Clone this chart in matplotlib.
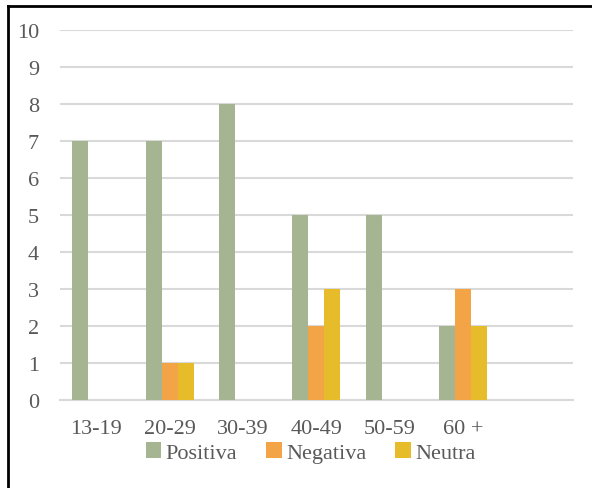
import numpy as np
import matplotlib.pyplot as plt
from matplotlib.lines import Line2D

# Data
categorias = ['13-19', '20-29', '30-39', '40-49', '50-59', '60 +', '']
positiva = [7, 7, 8, 5, 5, 2, 0]
negativa = [0, 1, 0, 2, 0, 3, 0]
neutra = [0, 1, 0, 3, 0, 2, 0]

plt.rcParams['font.family'] = ['Liberation Serif', 'DejaVu Serif']
gris = '#595959'

fig = plt.figure(figsize=(5.92, 4.89), dpi=100)
ax = fig.add_axes([0.101, 0.18, 0.867, 0.757])

x = np.arange(len(categorias))
w = 0.218
ax.bar(x - w, positiva, w, color='#A5B592', label='Positiva', zorder=3)
ax.bar(x, negativa, w, color='#F3A447', label='Negativa', zorder=3)
ax.bar(x + w, neutra, w, color='#E6BC2A', label='Neutra', zorder=3)

ax.set_xlim(-0.5, len(categorias) - 0.5)
ax.set_ylim(0, 10)
ax.set_yticks(range(0, 11))
ax.set_xticks(x)
ax.set_xticklabels(categorias)
ax.grid(axis='y', color='#d9d9d9', linewidth=1.5, zorder=0)
for s in ['top', 'right', 'left']:
    ax.spines[s].set_visible(False)
ax.spines['bottom'].set_color('#d9d9d9')
ax.spines['bottom'].set_linewidth(1.5)
ax.tick_params(axis='both', length=0, labelsize=16, labelcolor=gris)
ax.tick_params(axis='x', pad=14)
ax.tick_params(axis='y', pad=15)

leg = fig.legend(loc='center', bbox_to_anchor=(0.525, 0.073), ncol=3, frameon=False,
                 prop={'family': ['Liberation Serif', 'DejaVu Serif'], 'size': 16},
                 handlelength=0.7, handleheight=0.7, handletextpad=0.2,
                 columnspacing=1.3)
for t in leg.get_texts():
    t.set_color(gris)

# black frame (top and left)
fig.add_artist(Line2D([0.0135, 1.0], [0.986, 0.986], color='black', linewidth=2, transform=fig.transFigure))
fig.add_artist(Line2D([0.0135, 0.0135], [0.0, 0.986], color='black', linewidth=2, transform=fig.transFigure))

fig.savefig('out.png', dpi=100)
